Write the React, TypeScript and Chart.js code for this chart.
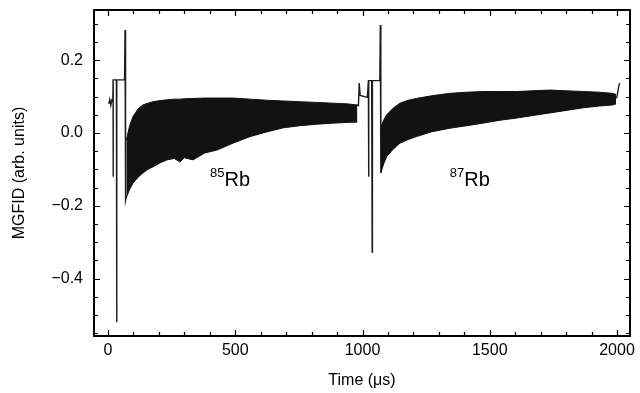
import React, { useEffect, useRef } from "react";
import { Chart, registerables } from "chart.js";

Chart.register(...registerables);

// ---- axis ticks ----
const xTickValues = [0, 500, 1000, 1500, 2000];
const xTickLabels = ["0", "500", "1000", "1500", "2000"];
const yTickValues = [-0.4, -0.2, 0, 0.2];
const yTickLabels = ["\u22120.4", "\u22120.2", "0.0", "0.2"];
const xMinorStep = 100;
const yMinorStep = 0.05;

// ---- 85Rb: switching transient before the FID (time in µs) ----
const rb85TraceTime = [3, 7, 11, 15, 19, 20, 20, 21, 33, 34, 35, 65, 67, 69, 72];
const rb85TraceValue = [0.08, 0.092, 0.076, 0.09, 0.085, 0.146, -0.12, 0.146, 0.146, -0.52, 0.146, 0.146, 0.283, -0.185, -0.175];

// ---- 85Rb: FID oscillation envelope ----
const rb85BandTime = [72, 85, 98, 118, 137, 157, 177, 205, 232, 260, 283, 300, 334, 380, 428, 491, 558, 624, 687, 754, 820, 884, 940, 980];
const rb85BandUpper = [-0.02, 0.02, 0.045, 0.066, 0.077, 0.082, 0.086, 0.089, 0.091, 0.093, 0.093, 0.094, 0.095, 0.096, 0.096, 0.096, 0.093, 0.09, 0.088, 0.086, 0.084, 0.082, 0.08, 0.077];
const rb85BandLower = [-0.178, -0.155, -0.138, -0.122, -0.11, -0.1, -0.093, -0.082, -0.074, -0.07, -0.08, -0.068, -0.074, -0.055, -0.047, -0.028, -0.01, 0.003, 0.014, 0.02, 0.024, 0.027, 0.029, 0.03];

// ---- 87Rb: switching transient ----
const rb87TraceTime = [978, 984, 987, 991, 1019, 1023, 1024, 1025, 1036, 1038, 1039, 1068, 1070, 1072];
const rb87TraceValue = [0.077, 0.075, 0.137, 0.103, 0.098, 0.144, -0.12, 0.144, 0.144, -0.327, 0.144, 0.144, 0.297, -0.11];

// ---- 87Rb: FID oscillation envelope ----
const rb87BandTime = [1072, 1083, 1095, 1120, 1147, 1180, 1212, 1270, 1343, 1410, 1473, 1540, 1606, 1670, 1736, 1800, 1866, 1930, 1983, 1996];
const rb87BandUpper = [0.017, 0.035, 0.05, 0.068, 0.082, 0.09, 0.095, 0.102, 0.109, 0.112, 0.114, 0.114, 0.114, 0.116, 0.118, 0.116, 0.114, 0.112, 0.109, 0.106];
const rb87BandLower = [-0.11, -0.085, -0.065, -0.045, -0.028, -0.018, -0.01, 0.003, 0.013, 0.02, 0.027, 0.035, 0.041, 0.048, 0.055, 0.062, 0.069, 0.074, 0.077, 0.08];

// ---- 87Rb: tail ----
const rb87TailTime = [1996, 2000, 2005, 2010];
const rb87TailValue = [0.095, 0.1, 0.122, 0.137];

// ---- annotations (data coordinates) ----
const annotationIsotopes = ["85", "87"];
const annotationSymbols = ["Rb", "Rb"];
const annotationTimes = [458, 1400];
const annotationValues = [-0.145, -0.145];

const FONT = "'Liberation Sans', Arial, Helvetica, sans-serif";
const INK = "#121212";

const toPoints = (t: number[], v: number[]) => t.map((x, i) => ({ x, y: v[i] }));

const framePlugin = {
  id: "frameTicks",
  afterDatasetsDraw(chart: any) {
    const { ctx, chartArea } = chart;
    const { left, right, top, bottom } = chartArea;
    const xs = chart.scales.x;
    const ys = chart.scales.y;
    ctx.save();
    ctx.strokeStyle = "#000";
    ctx.lineWidth = 1.2;
    ctx.beginPath();
    const xMax = xTickValues[xTickValues.length - 1];
    for (let v = xTickValues[0]; v <= xMax + 1e-9; v += xMinorStep) {
      const major = xTickValues.some((m) => Math.abs(m - v) < 1e-6);
      const len = major ? 6 : 4;
      const px = Math.round(xs.getPixelForValue(v)) + 0.5;
      ctx.moveTo(px, bottom);
      ctx.lineTo(px, bottom - len);
      ctx.moveTo(px, top);
      ctx.lineTo(px, top + len);
    }
    for (let v = -0.55; v <= 0.3 + 1e-9; v += yMinorStep) {
      const major = yTickValues.some((m) => Math.abs(m - v) < 1e-6);
      const len = major ? 6 : 4;
      const py = Math.round(ys.getPixelForValue(v)) + 0.5;
      ctx.moveTo(left, py);
      ctx.lineTo(left + len, py);
      ctx.moveTo(right, py);
      ctx.lineTo(right - len, py);
    }
    ctx.stroke();
    ctx.lineWidth = 2;
    ctx.strokeRect(left, top, right - left, bottom - top);
    ctx.fillStyle = "#000";
    ctx.textBaseline = "alphabetic";
    for (let i = 0; i < annotationSymbols.length; i++) {
      const px = xs.getPixelForValue(annotationTimes[i]);
      const py = ys.getPixelForValue(annotationValues[i]);
      ctx.font = `20px ${FONT}`;
      ctx.textAlign = "left";
      ctx.fillText(annotationSymbols[i], px, py);
      ctx.font = `13px ${FONT}`;
      ctx.textAlign = "right";
      ctx.fillText(annotationIsotopes[i], px, py - 9);
    }
    ctx.restore();
  },
};

export default function App() {
  const canvasRef = useRef<HTMLCanvasElement | null>(null);

  useEffect(() => {
    document.body.style.margin = "0";
    const canvas = canvasRef.current;
    if (!canvas) return;

    const bandStyle = {
      borderColor: INK,
      backgroundColor: INK,
      borderWidth: 1,
      pointRadius: 0,
      tension: 0,
    };
    const traceStyle = {
      borderColor: "#1c1c1c",
      backgroundColor: "#1c1c1c",
      borderWidth: 1.4,
      pointRadius: 0,
      tension: 0,
      fill: false,
    };

    const chart = new Chart(canvas, {
      type: "line",
      data: {
        datasets: [
          { ...bandStyle, label: "85Rb upper", data: toPoints(rb85BandTime, rb85BandUpper), fill: "+1" },
          { ...bandStyle, label: "85Rb lower", data: toPoints(rb85BandTime, rb85BandLower), fill: false },
          { ...bandStyle, label: "87Rb upper", data: toPoints(rb87BandTime, rb87BandUpper), fill: "+1" },
          { ...bandStyle, label: "87Rb lower", data: toPoints(rb87BandTime, rb87BandLower), fill: false },
          { ...traceStyle, label: "85Rb switch", data: toPoints(rb85TraceTime, rb85TraceValue) },
          { ...traceStyle, label: "87Rb switch", data: toPoints(rb87TraceTime, rb87TraceValue) },
          { ...traceStyle, label: "87Rb tail", data: toPoints(rb87TailTime, rb87TailValue) },
        ] as any,
      },
      options: {
        responsive: false,
        animation: false,
        events: [],
        layout: { padding: { top: 10, right: 10, left: 0, bottom: 0 } },
        plugins: {
          legend: { display: false },
          tooltip: { enabled: false },
        },
        scales: {
          x: {
            type: "linear",
            min: -55,
            max: 2051,
            afterFit: (s: any) => {
              s.height = 57;
              s.paddingLeft = 0;
              s.paddingRight = 0;
            },
            afterBuildTicks: (s: any) => {
              s.ticks = xTickValues.map((value) => ({ value }));
            },
            grid: { display: false, drawTicks: false },
            border: { display: false },
            ticks: {
              color: "#000",
              font: { family: FONT, size: 16 },
              padding: 5,
              maxRotation: 0,
              autoSkip: false,
              callback: (v: any) => {
                const i = xTickValues.findIndex((m) => Math.abs(m - Number(v)) < 1e-6);
                return i >= 0 ? xTickLabels[i] : "";
              },
            },
            title: {
              display: true,
              text: "Time (\u03bcs)",
              color: "#000",
              font: { family: FONT, size: 16 },
              padding: { top: 0, bottom: 3 },
            },
          },
          y: {
            type: "linear",
            min: -0.558,
            max: 0.338,
            afterFit: (s: any) => {
              s.width = 94;
              s.paddingTop = 0;
              s.paddingBottom = 0;
            },
            afterBuildTicks: (s: any) => {
              s.ticks = yTickValues.map((value) => ({ value }));
            },
            grid: { display: false, drawTicks: false },
            border: { display: false },
            ticks: {
              color: "#000",
              font: { family: FONT, size: 16 },
              padding: 11,
              autoSkip: false,
              callback: (v: any) => {
                const i = yTickValues.findIndex((m) => Math.abs(m - Number(v)) < 1e-6);
                return i >= 0 ? yTickLabels[i] : "";
              },
            },
            title: {
              display: true,
              text: "MGFID (arb. units)",
              color: "#000",
              font: { family: FONT, size: 16 },
              padding: { top: 10, bottom: 0 },
            },
          },
        },
      },
      plugins: [framePlugin],
    });

    return () => chart.destroy();
  }, []);

  return (
    <div style={{ width: 640, height: 393, background: "#fff" }}>
      <canvas ref={canvasRef} width={640} height={393} style={{ display: "block" }} />
    </div>
  );
}
